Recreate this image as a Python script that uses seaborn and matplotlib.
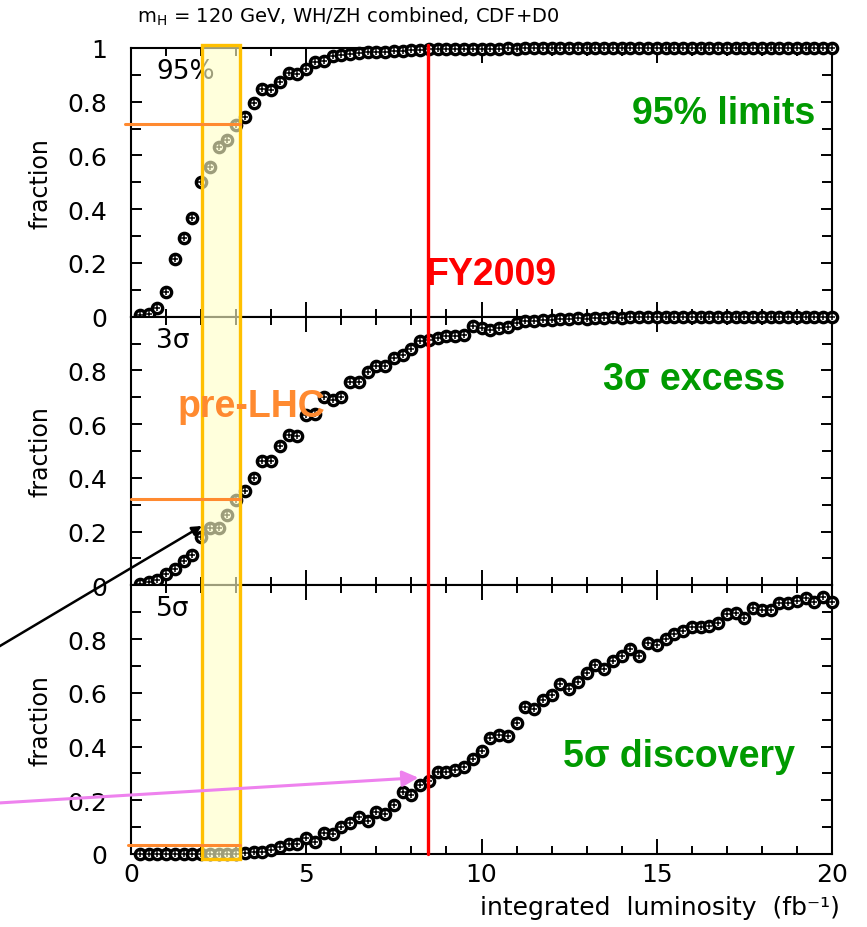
import matplotlib
matplotlib.use("Agg")
import matplotlib.pyplot as plt
from matplotlib.lines import Line2D
from matplotlib.patches import Rectangle, ConnectionPatch
from matplotlib.ticker import MultipleLocator
import matplotlib.transforms as mtransforms
import seaborn as sns

# Integrated luminosity steps (fb^-1)
lumi = [0.25, 0.5, 0.75, 1.0, 1.25, 1.5, 1.75, 2.0, 2.25, 2.5,
        2.75, 3.0, 3.25, 3.5, 3.75, 4.0, 4.25, 4.5, 4.75, 5.0,
        5.25, 5.5, 5.75, 6.0, 6.25, 6.5, 6.75, 7.0, 7.25, 7.5,
        7.75, 8.0, 8.25, 8.5, 8.75, 9.0, 9.25, 9.5, 9.75, 10.0,
        10.25, 10.5, 10.75, 11.0, 11.25, 11.5, 11.75, 12.0, 12.25, 12.5,
        12.75, 13.0, 13.25, 13.5, 13.75, 14.0, 14.25, 14.5, 14.75, 15.0,
        15.25, 15.5, 15.75, 16.0, 16.25, 16.5, 16.75, 17.0, 17.25, 17.5,
        17.75, 18.0, 18.25, 18.5, 18.75, 19.0, 19.25, 19.5, 19.75, 20.0]

# Fraction of pseudo-experiments reaching each threshold
frac_95cl = [0.006, 0.011, 0.033, 0.093, 0.215, 0.293, 0.369, 0.502,
             0.558, 0.630, 0.659, 0.712, 0.742, 0.796, 0.848, 0.842,
             0.875, 0.906, 0.904, 0.922, 0.947, 0.953, 0.972, 0.975,
             0.978, 0.981, 0.984, 0.986, 0.986, 0.988, 0.989, 0.994,
             0.994, 0.995, 0.996, 0.997, 0.996, 0.997, 0.998, 0.997,
             0.998, 0.998, 0.999, 0.998, 1.000, 0.999, 1.000, 1.000,
             1.000, 0.999, 1.000, 1.000, 1.000, 1.000, 0.999, 1.000,
             1.000, 1.000, 1.000, 1.000, 1.000, 1.000, 1.000, 1.000,
             1.000, 1.000, 1.000, 1.000, 1.000, 1.000, 1.000, 1.000,
             1.000, 1.000, 1.000, 1.000, 1.000, 1.000, 1.000, 1.000]

frac_3sigma = [0.004, 0.014, 0.020, 0.041, 0.060, 0.092, 0.113, 0.180,
               0.213, 0.215, 0.260, 0.318, 0.350, 0.400, 0.461, 0.461,
               0.517, 0.561, 0.557, 0.633, 0.638, 0.700, 0.690, 0.700,
               0.757, 0.757, 0.795, 0.818, 0.816, 0.847, 0.859, 0.878,
               0.909, 0.915, 0.920, 0.928, 0.928, 0.930, 0.965, 0.956,
               0.949, 0.956, 0.961, 0.978, 0.984, 0.984, 0.988, 0.988,
               0.990, 0.993, 0.995, 0.993, 0.996, 0.996, 0.997, 0.995,
               0.998, 0.998, 0.999, 0.998, 0.999, 0.999, 0.998, 0.999,
               0.999, 1.000, 0.999, 0.999, 1.000, 0.999, 0.998, 0.999,
               0.999, 0.997, 0.999, 0.998, 0.999, 1.000, 0.999, 0.998]

frac_5sigma = [0.000, 0.000, 0.000, 0.000, 0.000, 0.000, 0.000, 0.000,
               0.000, 0.000, 0.000, 0.001, 0.004, 0.006, 0.009, 0.016,
               0.025, 0.037, 0.037, 0.058, 0.044, 0.078, 0.075, 0.100,
               0.114, 0.137, 0.124, 0.155, 0.149, 0.183, 0.230, 0.218,
               0.255, 0.270, 0.305, 0.307, 0.311, 0.323, 0.354, 0.383,
               0.433, 0.444, 0.441, 0.489, 0.547, 0.541, 0.572, 0.593,
               0.634, 0.616, 0.640, 0.672, 0.705, 0.690, 0.718, 0.738,
               0.762, 0.738, 0.786, 0.777, 0.802, 0.817, 0.830, 0.846,
               0.846, 0.850, 0.858, 0.892, 0.898, 0.879, 0.917, 0.908,
               0.908, 0.935, 0.935, 0.943, 0.951, 0.937, 0.958, 0.939]

panel_tags = ["95%", "3\u03c3", "5\u03c3"]
panel_titles = ["95% limits", "3\u03c3 excess", "5\u03c3 discovery"]
prelhc_fraction = [0.716, 0.32, 0.034]

prelhc_lumi = (2.02, 3.12)
fy2009_lumi = 8.48

sns.set_style("ticks")
plt.rcParams["font.family"] = ["DejaVu Sans"]
plt.rcParams.update({"text.color": "black", "axes.labelcolor": "black",
                     "xtick.color": "black", "ytick.color": "black",
                     "axes.edgecolor": "black"})

GREEN = "#009A00"
ORANGE = "#FF8A30"
GOLD = "#FFC000"

W, H = 867, 928
fig = plt.figure(figsize=(W / 100, H / 100), dpi=100)
axes = fig.subplots(3, 1, sharex=True)
fig.subplots_adjust(left=131 / W, right=832 / W, top=1 - 49 / H,
                    bottom=1 - 855 / H, hspace=0)

series = [frac_95cl, frac_3sigma, frac_5sigma]
for i, (ax, vals) in enumerate(zip(axes, series)):
    sns.scatterplot(x=lumi, y=vals, ax=ax, marker="o", s=55,
                    color="white", edgecolor="black", linewidth=2.4,
                    clip_on=False, zorder=3, legend=False)
    sns.scatterplot(x=lumi, y=vals, ax=ax, marker="+", s=20,
                    color="black", linewidth=1.1,
                    clip_on=False, zorder=4, legend=False)
    ax.set_xlim(0, 20)
    ax.set_ylim(0, 1)
    ax.xaxis.set_major_locator(MultipleLocator(5))
    ax.xaxis.set_minor_locator(MultipleLocator(1))
    if i == 0:
        ax.set_yticks([0, 0.2, 0.4, 0.6, 0.8, 1.0])
        ax.set_yticklabels(["0", "0.2", "0.4", "0.6", "0.8", "1"])
    else:
        ax.set_yticks([0, 0.2, 0.4, 0.6, 0.8])
        ax.set_yticklabels(["0", "0.2", "0.4", "0.6", "0.8"])
    ax.yaxis.set_minor_locator(MultipleLocator(0.1))
    ax.tick_params(axis="both", which="both", direction="in",
                   top=True, right=True, width=1.4, color="black")
    ax.tick_params(axis="x", which="major", length=11, labelsize=18, pad=6)
    ax.tick_params(axis="x", which="minor", length=6)
    ax.tick_params(axis="y", which="major", length=8, labelsize=18, pad=17)
    ax.tick_params(axis="y", which="minor", length=7)
    for sp in ax.spines.values():
        sp.set_linewidth(1.5)
        sp.set_color("black")
    ax.set_ylabel("fraction", fontsize=17)
    ax.yaxis.set_label_coords(-0.112, 0.5)
    ax.set_xlabel("")
    ax.text(0.036, 0.915, panel_tags[i], transform=ax.transAxes,
            fontsize=19, ha="left", va="center", color="black", zorder=2)

axes[0].text(0.976, 0.719, panel_titles[0], transform=axes[0].transAxes,
             ha="right", va="baseline", fontsize=27, fontweight="bold",
             color=GREEN, family="Liberation Sans")
axes[1].text(0.933, 0.729, panel_titles[1], transform=axes[1].transAxes,
             ha="right", va="baseline", fontsize=27, fontweight="bold",
             color=GREEN, family="Liberation Sans")
axes[2].text(0.616, 0.329, panel_titles[2], transform=axes[2].transAxes,
             ha="left", va="baseline", fontsize=27, fontweight="bold",
             color=GREEN, family="Liberation Sans")
axes[0].text(8.39, 0.12, "FY2009", ha="left", va="baseline", fontsize=27,
             fontweight="bold", color="red", family="Liberation Sans", zorder=2)

# pre-LHC luminosity band spanning all three panels
band_tr = mtransforms.blended_transform_factory(axes[2].transData, fig.transFigure)
band = Rectangle((prelhc_lumi[0], 1 - 860 / H), prelhc_lumi[1] - prelhc_lumi[0],
                 (860 - 45.5) / H, transform=band_tr,
                 facecolor=(1.0, 1.0, 0.78, 0.62), edgecolor=GOLD,
                 linewidth=2.4, zorder=5)
fig.add_artist(band)

# FY2009 luminosity marker
fig.add_artist(Line2D([fy2009_lumi, fy2009_lumi], [1 - 855 / H, 1 - 45.5 / H],
                      transform=band_tr, color="red", linewidth=2.4, zorder=6))

# pre-LHC reach in each panel
starts = [-0.17, 0.0, -0.09]
for ax, yv, x0 in zip(axes, prelhc_fraction, starts):
    fig.add_artist(Line2D([x0, prelhc_lumi[1]], [yv, yv], transform=ax.transData,
                          color=ORANGE, linewidth=2.2, zorder=6))

fig.text(1.34, 0.63, "pre-LHC", transform=axes[1].transData, ha="left",
         va="baseline", fontsize=27, fontweight="bold", color=ORANGE,
         family="Liberation Sans", zorder=7)

# arrows coming in from the left edge
black_arrow = ConnectionPatch(xyA=(-0.002, 1 - 648 / H), coordsA=fig.transFigure,
                              xyB=(2.02, 0.221), coordsB=axes[1].transData,
                              arrowstyle="-|>", mutation_scale=14,
                              color="black", linewidth=1.8, zorder=8)
fig.add_artist(black_arrow)
pink_arrow = ConnectionPatch(xyA=(-0.002, 1 - 804 / H), coordsA=fig.transFigure,
                             xyB=(8.2, 0.284), coordsB=axes[2].transData,
                             arrowstyle="-|>", mutation_scale=24,
                             color="#EE82EE", linewidth=2.2, zorder=8)
fig.add_artist(pink_arrow)

fig.text(137 / W, 1 - 17 / H,
         "m$_\\mathregular{H}$ = 120 GeV, WH/ZH combined, CDF+D0",
         ha="left", va="center", fontsize=14)
fig.text(840 / W, 1 - 908 / H,
         "integrated  luminosity  (fb\u207b\u00b9)",
         ha="right", va="center", fontsize=18)

fig.savefig("out.png", dpi=100)
